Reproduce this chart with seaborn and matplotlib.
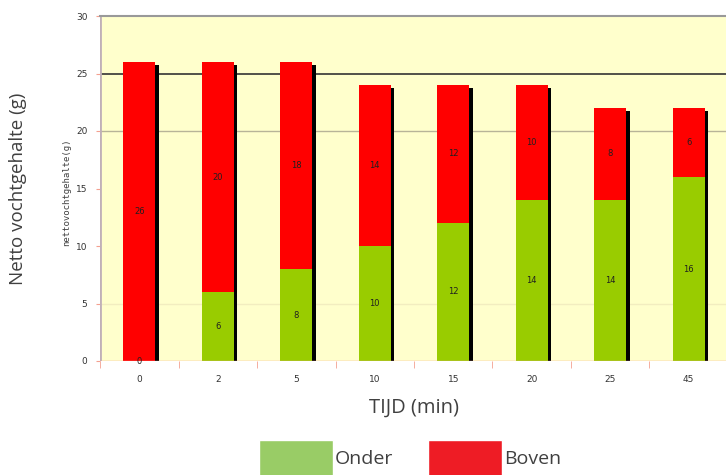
import matplotlib
matplotlib.use('Agg')
import matplotlib.pyplot as plt
import matplotlib.patheffects as pe
from matplotlib.patches import Patch
import numpy as np
import pandas as pd
import seaborn as sb

# netto vochtgehalte per tijdstip
tijd = ['0', '2', '5', '10', '15', '20', '25', '45']
onder = [0, 6, 8, 10, 12, 14, 14, 16]
boven = [26, 20, 18, 14, 12, 10, 8, 6]

green = '#99CC00'
red = '#FF0000'
tick_col = '#F4A090'

df = pd.DataFrame({'tijd': tijd, 'onder': onder, 'boven': boven})
df['totaal'] = df['onder'] + df['boven']

sb.set_style('white')
plt.rcParams['font.family'] = ['Open Sans', 'DejaVu Sans']

fig = plt.figure(figsize=(7.26, 4.75), dpi=100)
ax = fig.add_axes([100/726, 1 - 361/475, 628/726, 345/475])
ax.set_facecolor('#FFFFCC')

# stacked: first the total (red), then onder (green) on top of it
sb.barplot(data=df, x='tijd', y='totaal', order=tijd, color=red, width=0.41,
           saturation=1, linewidth=0, ax=ax, zorder=3)
for p in ax.patches:
    p.set_path_effects([pe.SimplePatchShadow(offset=(2.5, -2.5), shadow_rgbFace='black', alpha=1),
                        pe.Normal()])
sb.barplot(data=df, x='tijd', y='onder', order=tijd, color=green, width=0.41,
           saturation=1, linewidth=0, ax=ax, zorder=4)

# value labels
for i in range(len(tijd)):
    ax.text(i, onder[i] / 2, str(onder[i]), ha='center', va='center',
            fontsize=6, family='DejaVu Sans', color='#202020', zorder=6)
    ax.text(i, onder[i] + boven[i] / 2, str(boven[i]), ha='center', va='center',
            fontsize=6, family='DejaVu Sans', color='#202020', zorder=6)

ax.set_ylim(0, 30)
ax.set_xlim(-0.5, len(tijd) - 0.5)
ax.set_yticks([0, 5, 10, 15, 20, 25, 30])

# gridlines
ax.axhline(25, color='#333333', lw=1.2, zorder=1)
ax.axhline(20, color='#B8B498', lw=1, zorder=1)
ax.axhline(5, color='#F2EDC0', lw=1, zorder=1)

for s in ['right', 'bottom', 'left']:
    ax.spines[s].set_visible(False)
ax.spines['top'].set_color('#999999')
ax.spines['top'].set_linewidth(1.5)
ax.axvline(-0.5, color='#C0B0B8', lw=2, zorder=2)
ax.axhline(0, color=tick_col, lw=1, zorder=5)

ax.set_xticks(np.arange(-0.5, len(tijd)), minor=True)
ax.tick_params(axis='x', which='major', length=0, labelsize=6.5, labelcolor='#333333', pad=10)
ax.tick_params(axis='x', which='minor', length=5, color=tick_col, direction='out', bottom=True)
ax.tick_params(axis='y', length=3, color=tick_col, direction='out', labelsize=6.5,
               labelcolor='#333333', left=True, pad=6)
for lab in ax.get_xticklabels() + ax.get_yticklabels():
    lab.set_family('DejaVu Sans')

ax.set_xlabel('TIJD (min)', fontsize=14.5, color='#404040', labelpad=10)
ax.set_ylabel('Netto vochtgehalte (g)', fontsize=13.5, color='#404040', labelpad=35)
fig.text(67/726, 1 - 192/475, 'nettovochtgehalte(g)', rotation=90, ha='center', va='center',
         fontsize=6.5, family='DejaVu Sans Mono', color='#404040')

handles = [Patch(facecolor='#99CC66', label='Onder'), Patch(facecolor='#EE1C25', label='Boven')]
fig.legend(handles=handles, loc='lower center', bbox_to_anchor=(0.565, -0.038), ncol=2,
           frameon=False, fontsize=14, handlelength=3.8, handleheight=2.4,
           handletextpad=0.1, columnspacing=1.8, labelcolor='#404040')

fig.savefig('out.png', dpi=100)
